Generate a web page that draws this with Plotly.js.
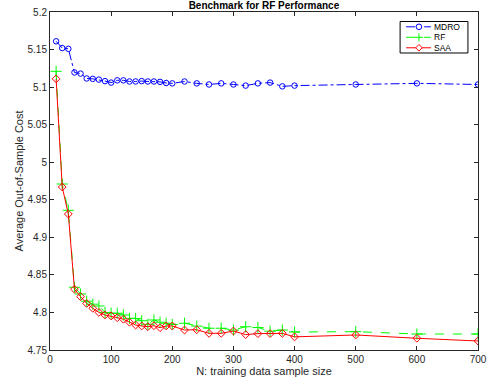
<!DOCTYPE html>
<html>
<head>
<meta charset="utf-8">
<script src="https://cdn.plot.ly/plotly-3.0.1.min.js"></script>
<style>
html,body{margin:0;padding:0;background:#fff;}
#chart{width:487px;height:381px;}
</style>
</head>
<body>
<div id="chart"></div>
<script>
// ---- data ----
const sampleSizes = [10,20,30,40,50,60,70,80,90,100,110,120,130,140,150,160,170,180,190,200,220,240,260,280,300,320,340,360,380,400,500,600,700];
const mdroCost = [5.161,5.152,5.151,5.1195,5.118,5.1115,5.111,5.110,5.108,5.106,5.109,5.109,5.1075,5.1075,5.108,5.1075,5.1075,5.107,5.1055,5.105,5.1075,5.105,5.1035,5.105,5.1035,5.102,5.105,5.106,5.101,5.102,5.1035,5.105,5.1035];
const rfCost = [5.121,4.971,4.936,4.8335,4.8246,4.815,4.811,4.8086,4.800,4.799,4.799,4.7966,4.7922,4.792,4.789,4.7842,4.790,4.787,4.7856,4.784,4.7856,4.7818,4.779,4.779,4.7766,4.781,4.780,4.775,4.7766,4.774,4.7744,4.7713,4.7713];
const saaCost = [5.111,4.967,4.931,4.831,4.821,4.812,4.8055,4.800,4.7966,4.7953,4.793,4.791,4.787,4.7833,4.782,4.781,4.7824,4.7797,4.782,4.782,4.7766,4.777,4.7722,4.7722,4.7753,4.7705,4.7718,4.7718,4.7722,4.7675,4.770,4.7656,4.762];
const seriesNames = ["MDRO","RF","SAA"];
const xTickVals = [0,100,200,300,400,500,600,700];
const yTickVals = [4.75,4.8,4.85,4.9,4.95,5,5.05,5.1,5.15,5.2];
const yTickText = ["4.75","4.8","4.85","4.9","4.95","5","5.05","5.1","5.15","5.2"];

const fontFam = '"Liberation Sans", Arial, Helvetica, sans-serif';
const txtColor = '#262626';

const traces = [
  {x: sampleSizes, y: mdroCost, name: seriesNames[0], mode: 'lines+markers',
   line: {color: '#0000ff', width: 1, dash: 'dashdot'},
   marker: {symbol: 'circle-open', size: 5.5, color: '#0000ff', line: {width: 1, color: '#0000ff'}}},
  {x: sampleSizes, y: rfCost, name: seriesNames[1], mode: 'lines+markers',
   line: {color: '#00ff00', width: 1, dash: 'dash'},
   marker: {symbol: 'cross-thin-open', size: 8, color: '#00ff00', line: {width: 1, color: '#00ff00'}}},
  {x: sampleSizes, y: saaCost, name: seriesNames[2], mode: 'lines+markers',
   line: {color: '#ff0000', width: 1},
   marker: {symbol: 'diamond-open', size: 6, color: '#ff0000', line: {width: 1, color: '#ff0000'}}}
];

// custom compact legend (MATLAB style)
const legRows = [0.9562, 0.9251, 0.8941];
const legLineX = [0.832, 0.890];
const legMarkX = 0.862;
const legTextX = 0.894;
const legColors = ['#0000ff','#00ff00','#ff0000'];
const legDash = ['dashdot','dash','solid'];
const markerPaths = [
  null,
  'M-4,0H4M0,-4V4',
  'M0,-3.3L3.3,0L0,3.3L-3.3,0Z'
];
const shapes = [
  {type:'rect', xref:'paper', yref:'paper', x0:0.818, x1:0.9765, y0:0.8787, y1:0.9719,
   line:{color:'#000000', width:1}, fillcolor:'#ffffff', layer:'above'}
];
const annotations = [];
for (let i = 0; i < 3; i++) {
  shapes.push({type:'line', xref:'paper', yref:'paper', x0:legLineX[0], x1:legLineX[1], y0:legRows[i], y1:legRows[i],
    line:{color:legColors[i], width:1, dash:legDash[i]}, layer:'above'});
  if (i === 0) {
    shapes.push({type:'circle', xref:'paper', yref:'paper', xsizemode:'pixel', ysizemode:'pixel',
      xanchor:legMarkX, yanchor:legRows[i], x0:-2.8, x1:2.8, y0:-2.8, y1:2.8,
      line:{color:legColors[i], width:1}, fillcolor:'#ffffff', layer:'above'});
  } else {
    shapes.push({type:'path', xref:'paper', yref:'paper', xsizemode:'pixel', ysizemode:'pixel',
      xanchor:legMarkX, yanchor:legRows[i], path:markerPaths[i],
      line:{color:legColors[i], width:1}, fillcolor: i===2 ? '#ffffff' : undefined, layer:'above'});
  }
  annotations.push({xref:'paper', yref:'paper', x:legTextX, y:legRows[i], xanchor:'left', yanchor:'middle',
    text: seriesNames[i], showarrow:false, borderpad:0,
    font:{family:fontFam, size:8.5, color:'#000000'}});
}

const layout = {
  width: 487, height: 381,
  margin: {l: 50, r: 9, t: 12, b: 31, pad: 0},
  paper_bgcolor: '#ffffff', plot_bgcolor: '#ffffff',
  font: {family: fontFam, size: 10, color: txtColor},
  showlegend: false,
  title: {text: '<b>Benchmark for RF Performance</b>', font: {family: fontFam, size: 10, color: '#000000'},
          x: 0.542, xanchor: 'center', y: 0.995, yref: 'container', yanchor: 'top', pad: {t: 0}},
  xaxis: {range: [0, 700], tickvals: xTickVals, ticks: 'inside', ticklen: 4, tickcolor: txtColor,
          showline: true, linecolor: txtColor, linewidth: 1, mirror: 'ticks', showgrid: false, zeroline: false,
          tickfont: {size: 10, color: txtColor},
          title: {text: 'N: training data sample size', font: {size: 11, color: txtColor}, standoff: 2}},
  yaxis: {range: [4.75, 5.2], tickvals: yTickVals, ticktext: yTickText, ticks: 'inside', ticklen: 4, tickcolor: txtColor,
          showline: true, linecolor: txtColor, linewidth: 1, mirror: 'ticks', showgrid: false, zeroline: false,
          tickfont: {size: 10, color: txtColor},
          title: {text: 'Average Out-of-Sample Cost', font: {size: 11, color: txtColor}, standoff: 1}},
  shapes: shapes,
  annotations: annotations
};

Plotly.newPlot('chart', traces, layout, {displayModeBar: false, staticPlot: true});
</script>
</body>
</html>
